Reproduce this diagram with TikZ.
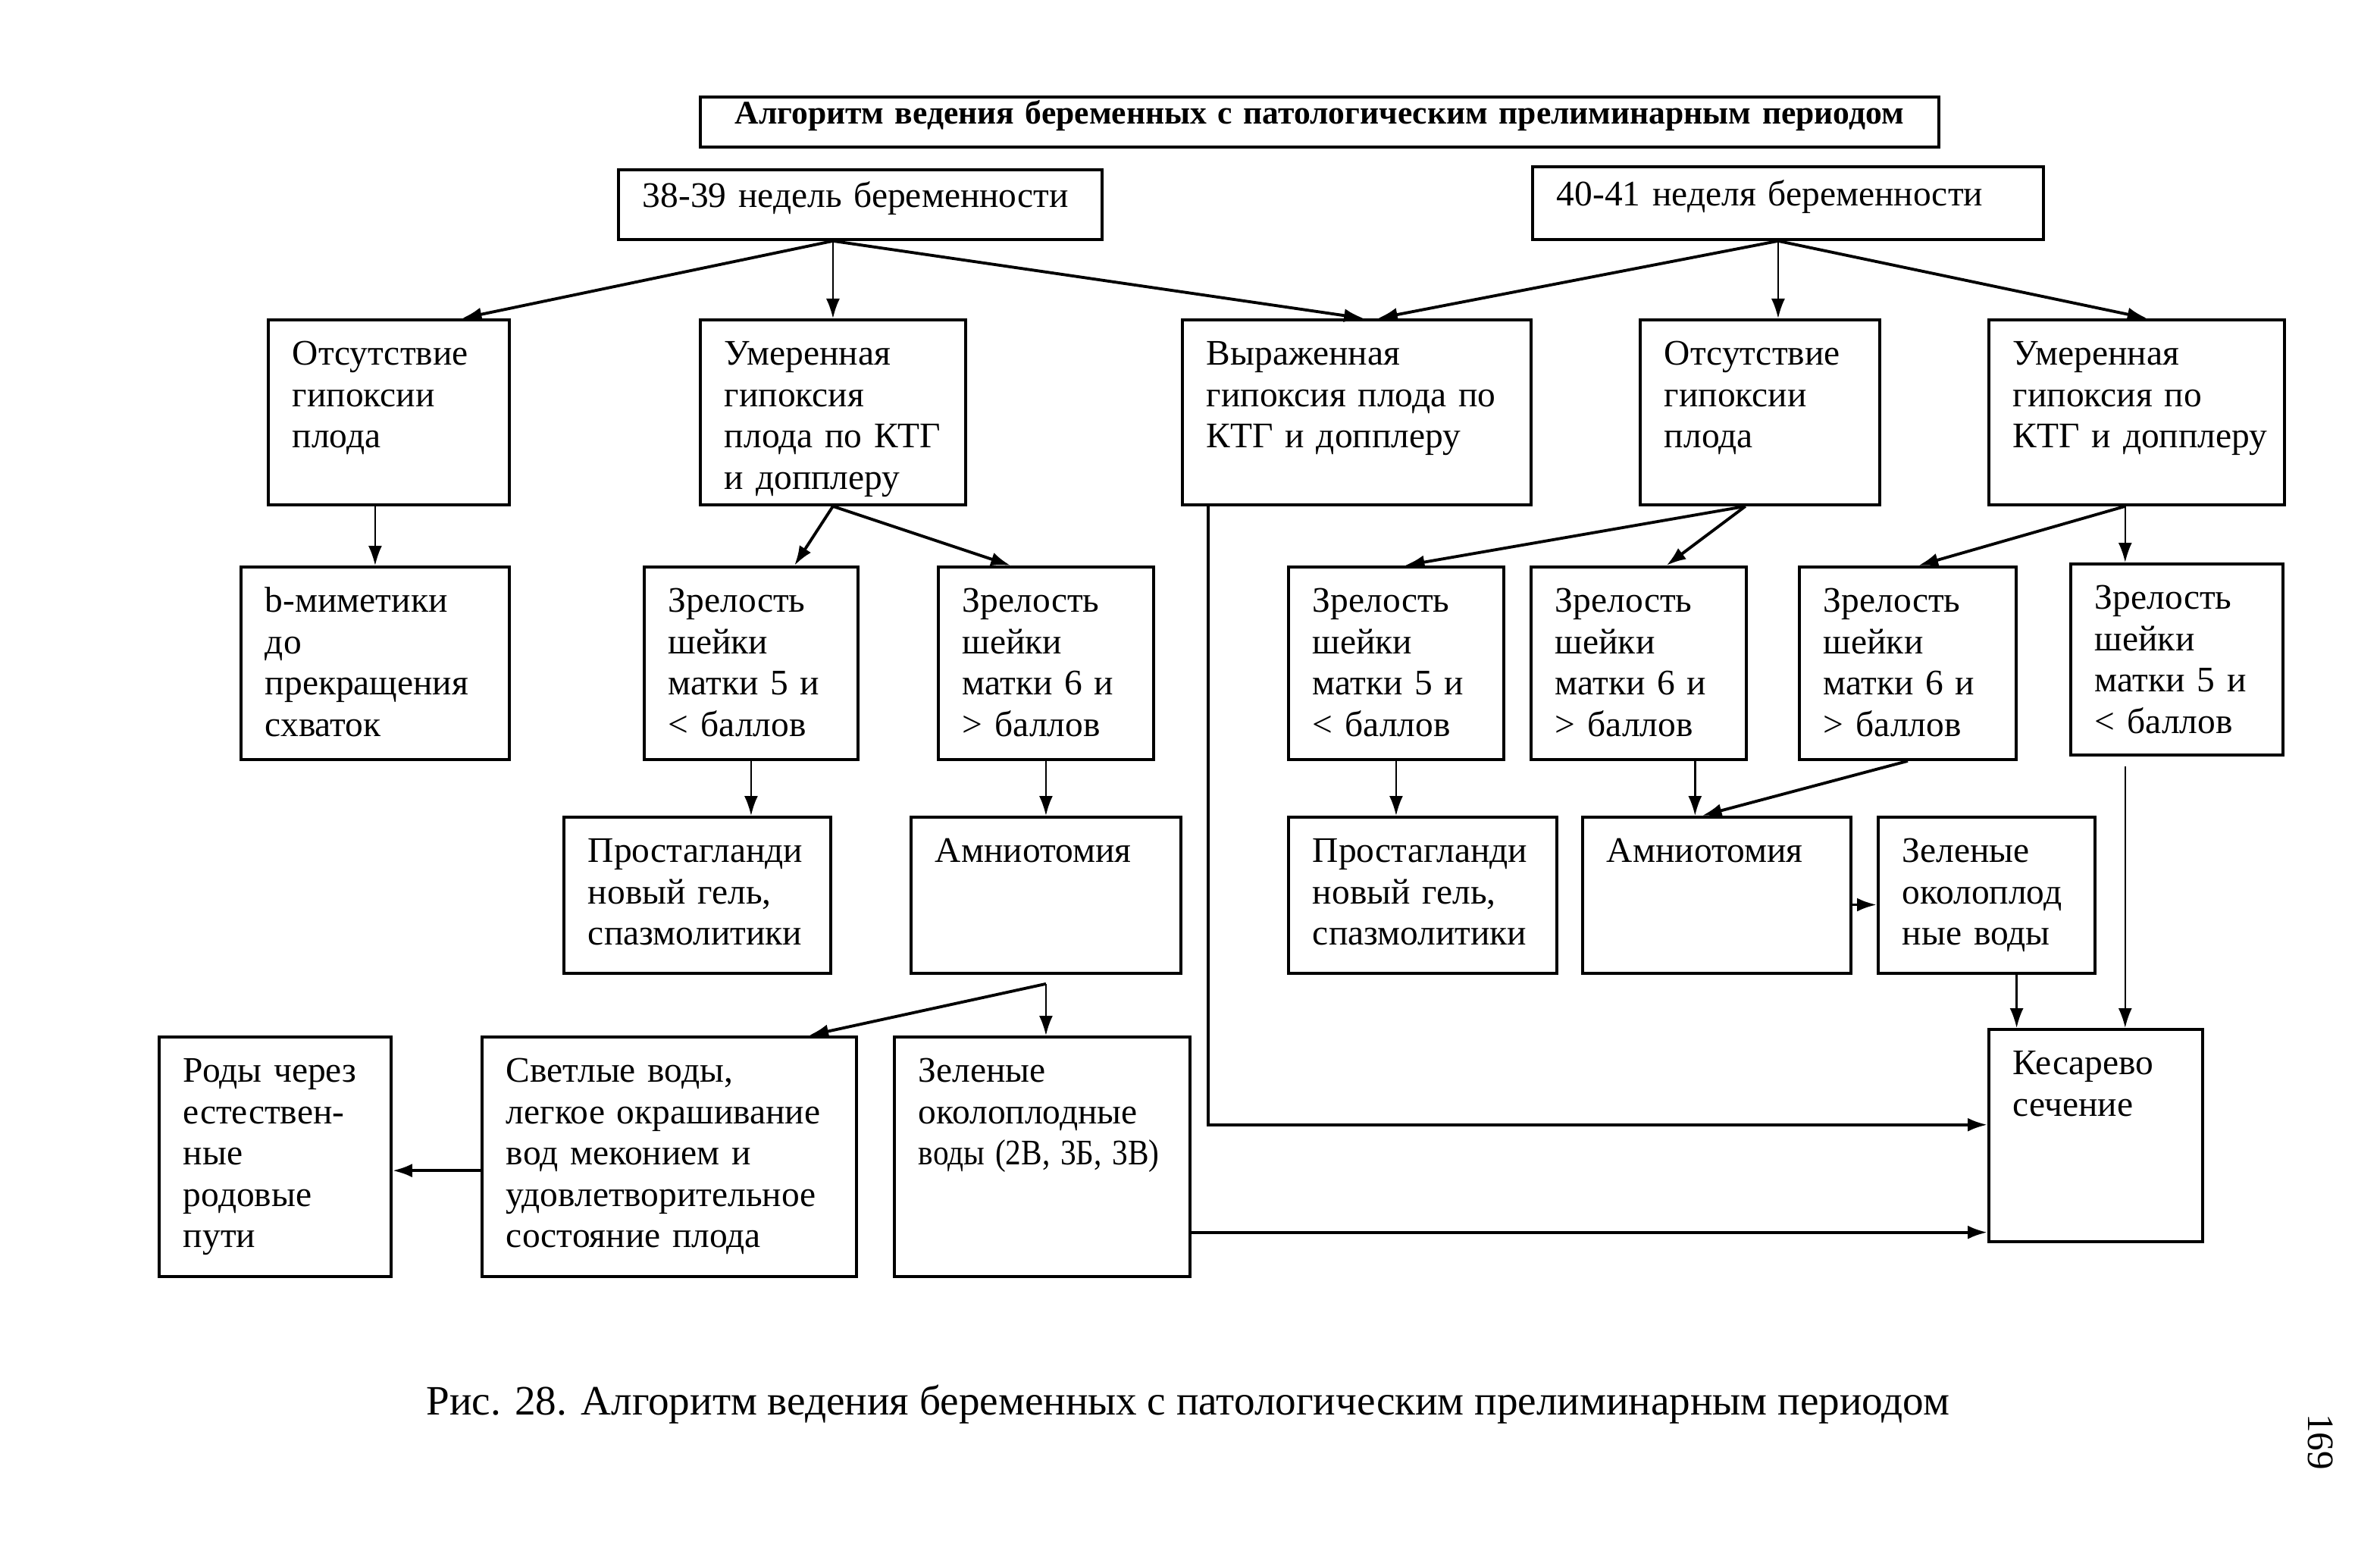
\documentclass[tikz,border=0pt]{standalone}
\usepackage{fontspec}
\usepackage{graphicx}
\setmainfont{Liberation Serif}
\usetikzlibrary{arrows.meta,calc,positioning}
\tikzset{
  >={Latex[length=2.6mm,width=1.8mm]}
}

\begin{document}
\begin{tikzpicture}[box/.style={draw,line width=1.1pt,anchor=north west,align=left,inner xsep=0.32cm,inner ysep=0pt,text height=0.6cm,font=\fontsize{13.5}{15.5}\selectfont},
        con/.style={->,line width=1.1pt},
        varr/.style={->,line width=0.7pt}]
        \useasboundingbox (0,0) rectangle (31.4,-20.5);

        \node (ttl) at (9.22,-1.26) [box,align=center,text width=15.70cm,text height=0.36cm,text depth=0.30cm,font=\fontsize{12.4}{14}\selectfont\bfseries] {Алгоритм ведения беременных с патологическим прелиминарным периодом};
        \node (A) at (8.14,-2.22) [box,text width=5.74cm,text height=0.50cm,text depth=0.42cm] {38-39 недель беременности};
        \node (B) at (20.20,-2.18) [box,text width=6.10cm,text height=0.52cm,text depth=0.44cm] {40-41 неделя беременности};

        % second row
        \node (r2a) at (3.52,-4.20) [box,text width=2.54cm,text depth=1.84cm] {Отсутствие\\ гипоксии\\ плода};
        \node (r2b) at (9.22,-4.20) [box,text width=2.86cm,text depth=1.84cm] {Умеренная\\ гипоксия\\ плода по КТГ\\ и допплеру};
        \node (r2c) at (15.58,-4.20) [box,text width=3.96cm,text depth=1.84cm] {Выраженная\\ гипоксия плода по\\ КТГ и допплеру};
        \node (r2d) at (21.62,-4.20) [box,text width=2.52cm,text depth=1.84cm] {Отсутствие\\ гипоксии\\ плода};
        \node (r2e) at (26.22,-4.20) [box,text width=3.26cm,text depth=1.84cm] {Умеренная\\ гипоксия по\\ КТГ~и~допплеру};

        % third row
        \node (r3a) at (3.16,-7.46) [box,text width=2.90cm,text depth=1.94cm] {b-миметики\\ до\\ прекращения\\ схваток};
        \node (r3b) at (8.48,-7.46) [box,text width=2.18cm,text depth=1.94cm] {Зрелость\\ шейки\\ матки 5 и\\ < баллов};
        \node (r3c) at (12.36,-7.46) [box,text width=2.20cm,text depth=1.94cm] {Зрелость\\ шейки\\ матки 6 и\\ > баллов};
        \node (r3d) at (16.98,-7.46) [box,text width=2.20cm,text depth=1.94cm] {Зрелость\\ шейки\\ матки 5 и\\ < баллов};
        \node (r3e) at (20.18,-7.46) [box,text width=2.20cm,text depth=1.94cm] {Зрелость\\ шейки\\ матки 6 и\\ > баллов};
        \node (r3f) at (23.72,-7.46) [box,text width=2.22cm,text depth=1.94cm] {Зрелость\\ шейки\\ матки 6 и\\ > баллов};
        \node (r3g) at (27.30,-7.42) [box,text width=2.16cm,text depth=1.92cm] {Зрелость\\ шейки\\ матки 5 и\\ < баллов};

        % fourth row
        \node (r4a) at (7.42,-10.76) [box,text width=2.88cm,text depth=1.46cm] {Простагланди\\ новый гель,\\ спазмолитики};
        \node (r4b) at (12.00,-10.76) [box,text width=2.92cm,text depth=1.46cm] {Амниотомия};
        \node (r4c) at (16.98,-10.76) [box,text width=2.90cm,text depth=1.46cm] {Простагланди\\ новый гель,\\ спазмолитики};
        \node (r4d) at (20.86,-10.76) [box,text width=2.90cm,text depth=1.46cm] {Амниотомия};
        \node (r4e) at (24.76,-10.76) [box,text width=2.22cm,text depth=1.46cm] {Зеленые\\ околоплод\\ ные воды};

        % fifth row
        \node (r5a) at (2.08,-13.66) [box,text width=2.42cm,text depth=2.56cm] {Роды через\\ естествен-\\ ные\\ родовые\\ пути};
        \node (r5b) at (6.34,-13.66) [box,text width=4.30cm,text depth=2.56cm] {Светлые воды,\\ легкое окрашивание\\ вод меконием и\\ удовлетворительное\\ состояние плода};
        \node (r5c) at (11.78,-13.66) [box,text width=3.26cm,text depth=2.56cm] {Зеленые\\ околоплодные\\ \scalebox{0.87}[1]{воды (2В, 3Б, 3В)}};
        \node (r5d) at (26.22,-13.56) [box,text width=2.18cm,text depth=2.20cm] {Кесарево\\ сечение};

        \node (cap) at (5.50,-18.66) [anchor=base west,font=\fontsize{15.7}{18}\selectfont] {Рис. 28. Алгоритм ведения беременных с патологическим прелиминарным периодом};
        \node (pg) at (30.62,-19.02) [rotate=-90,font=\fontsize{14}{16}\selectfont] {169};

        % from the two terms
        \coordinate (a0) at (A.south -| r2b.north);
        \draw[con] (a0) -- ($(r2a.north west)!0.8!(r2a.north east)$);
        \draw[varr] (a0) -- (r2b.north);
        \draw[con] (a0) -- ($(r2c.north west)!0.52!(r2c.north east)$);
        \coordinate (b0) at ($(B.south)+(-0.13,0)$);
        \draw[con] (b0) -- ($(r2c.north west)!0.56!(r2c.north east)$);
        \draw[varr] (b0) -- (b0 |- r2d.north);
        \draw[con] (b0) -- ($(r2e.north west)!0.535!(r2e.north east)$);

        % 38-39 weeks
        \draw[varr] (r2a.south -| r3a.north) -- (r3a.north);
        \draw[con] (r2b.south) -- ($(r3b.north west)!0.7!(r3b.north east)$);
        \draw[con] (r2b.south) -- ($(r3c.north west)!0.338!(r3c.north east)$);
        \draw[varr] (r3b.south) -- (r3b.south |- r4a.north);
        \draw[varr] (r3c.south) -- (r3c.south |- r4b.north);
        \coordinate (g0) at ($(r4b.south)+(0,-0.12)$);
        \draw[varr] (g0) -- (g0 |- r5c.north);
        \draw[con] (g0) -- ($(r5b.north west)!0.87!(r5b.north east)$);
        \coordinate (h0) at ($(r5b.north west)!0.557!(r5b.south west)$);
        \draw[con] (h0) -- (h0 -| r5a.east);
        \coordinate (h1) at ($(r5d.north west)!0.95!(r5d.south west)$);
        \draw[con] (h1 -| r5c.east) -- (h1);

        % 40-41 weeks
        \coordinate (c0) at ($(r2c.south west)!0.078!(r2c.south east)$);
        \draw[con] (c0) |- ($(r5d.north west)!0.45!(r5d.south west)$);
        \coordinate (d0) at ($(r2d.south west)!0.44!(r2d.south east)$);
        \draw[con] (d0) -- ($(r3d.north west)!0.54!(r3d.north east)$);
        \draw[con] (d0) -- ($(r3e.north west)!0.627!(r3e.north east)$);
        \coordinate (e0) at ($(r2e.south west)!0.4615!(r2e.south east)$);
        \draw[con] (e0) -- ($(r3f.north west)!0.549!(r3f.north east)$);
        \draw[varr] (e0) -- (e0 |- r3g.north);
        \draw[varr] (r3d.south) -- (r3d.south |- r4c.north);
        \coordinate (d1) at ($(r4d.north west)!0.42!(r4d.north east)$);
        \draw[varr] (d1 |- r3e.south) -- (d1);
        \draw[con] (r3f.south) -- ($(r4d.north west)!0.446!(r4d.north east)$);
        \coordinate (d2) at ($(r4d.north east)!0.56!(r4d.south east)$);
        \draw[con] (d2) -- (d2 -| r4e.west);
        \coordinate (f1) at ($(r5d.north west)!0.135!(r5d.north east)$);
        \draw[varr] (f1 |- r4e.south) -- (f1);
        \draw[varr,shorten <=0.13cm] (e0 |- r3g.south) -- (e0 |- r5d.north);
    \end{tikzpicture}
\end{document}
